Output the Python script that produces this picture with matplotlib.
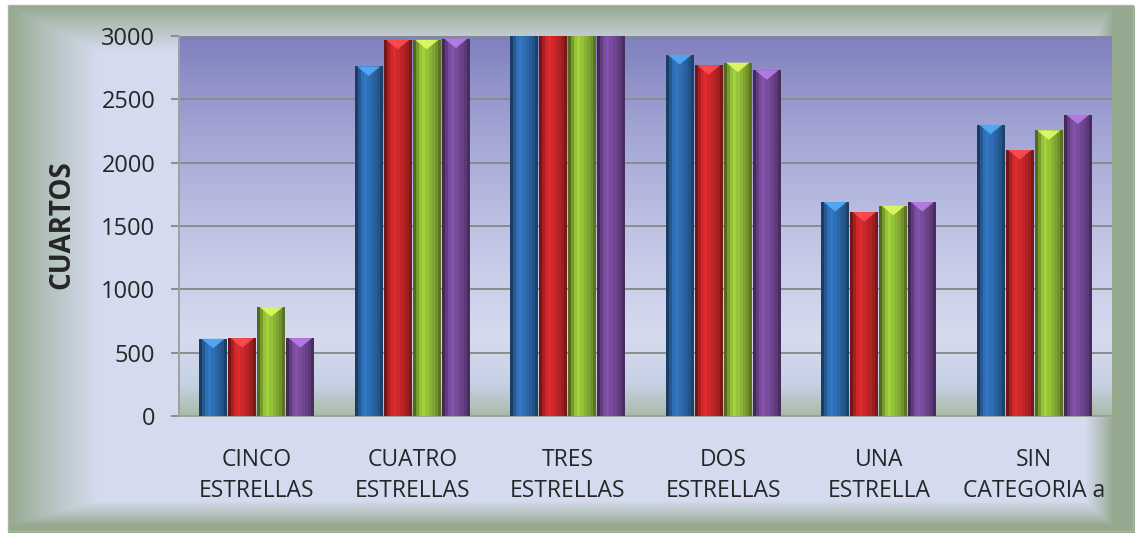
import matplotlib.pyplot as plt
import numpy as np
from matplotlib.colors import LinearSegmentedColormap, to_rgb
from matplotlib.patches import Rectangle, Polygon

# data
categories = ['CINCO\nESTRELLAS', 'CUATRO\nESTRELLAS', 'TRES\nESTRELLAS',
              'DOS\nESTRELLAS', 'UNA\nESTRELLA', 'SIN\nCATEGORIA a']
serie_1 = [610, 2760, 3400, 2850, 1690, 2300]
serie_2 = [615, 2970, 3400, 2770, 1610, 2100]
serie_3 = [860, 2970, 3400, 2790, 1660, 2255]
serie_4 = [615, 2980, 3400, 2730, 1690, 2380]
series = [serie_1, serie_2, serie_3, serie_4]
colors = ['#2F6FB5', '#D0282A', '#96C23A', '#7A4C9E']

plt.rcParams['font.family'] = ['Open Sans', 'DejaVu Sans']

W, H = 1135, 533
fig = plt.figure(figsize=(W / 100, H / 100), dpi=100)

# outer frame: green at the border fading into light lavender
bg = fig.add_axes([0, 0, 1, 1])
yy, xx = np.mgrid[0:H, 0:W]
t = np.minimum.reduce([(xx - 8) / 90.0, (W - 22 - xx) / 28.0,
                       (yy - 6) / 45.0, (H - 8 - yy) / 25.0])
t = np.clip(t, 0, 1) ** 0.9
green = np.array(to_rgb('#94A98E'))
light = np.array(to_rgb('#D5DBEF'))
img = green[None, None, :] * (1 - t[..., None]) + light[None, None, :] * t[..., None]
img[:6, :] = 1.0
img[:, :8] = 1.0
bg.imshow(img, extent=[0, W, H, 0], aspect='auto')
bg.add_patch(Rectangle((8, 5), W - 10, H - 7, fill=False, ec='#B0B0B0', lw=1))
bg.set_xlim(0, W)
bg.set_ylim(H, 0)
bg.axis('off')

left, right, top, bottom = 179, 1112, 36, 416
ax = fig.add_axes([left / W, (H - bottom) / H, (right - left) / W, (bottom - top) / H])
ax.set_facecolor('none')

n = len(categories)
x = np.arange(n)
w = 0.187
ax.set_xlim(-0.5, n - 0.5)
ax.set_ylim(0, 3000)

# plot area gradient
cmap = LinearSegmentedColormap.from_list('pa', [
    (0.0, '#A9BAA8'), (0.08, '#C6D0E4'), (0.2, '#D6DBEF'),
    (0.45, '#C3C7E6'), (0.75, '#A2A5D4'), (1.0, '#7F80BE')])
grad = np.linspace(0, 1, 256)[:, None]
ax.imshow(grad, cmap=cmap, extent=[-0.5, n - 0.5, 0, 3000], aspect='auto',
          origin='lower', zorder=0)

ax.set_yticks(np.arange(0, 3001, 500))
ax.yaxis.grid(True, color='#8C8C8C', lw=1.4, zorder=1)
ax.set_axisbelow(True)

# bars with horizontal shading
shade = np.array([0.55, 0.8, 1.0, 1.08, 1.0, 0.92, 0.85, 0.75, 0.6])
for k, (vals, col) in enumerate(zip(series, colors)):
    base = np.array(to_rgb(col))
    strip = np.clip(base[None, :] * shade[:, None], 0, 1)[None, :, :]
    xs = x + (k - 1.5) * w
    bars = ax.bar(xs, vals, width=w * 0.96, color=col, zorder=2, lw=0)
    for b, v in zip(bars, vals):
        x0 = b.get_x()
        bw = b.get_width()
        top_v = min(v, 3000)
        im = ax.imshow(strip, extent=[x0, x0 + bw, 0, top_v], aspect='auto', zorder=3)
        im.set_clip_path(b)
        if v < 3000:
            light_col = np.clip(base * 1.35 + 0.1, 0, 1)
            tri = Polygon([[x0 + bw * 0.08, v], [x0 + bw * 0.92, v],
                           [x0 + bw * 0.5, v - 75]], closed=True,
                          fc=light_col, ec='none', alpha=0.85, zorder=4)
            ax.add_patch(tri)

ax.set_xticks(x)
ax.set_xticklabels(categories, fontsize=16.5, color='#262626', linespacing=1.4)
ax.tick_params(axis='x', length=0, pad=23)
ax.tick_params(axis='y', length=6, width=1.4, color='#8C8C8C', labelsize=17,
               labelcolor='#262626', pad=11)
for s in ['top', 'right']:
    ax.spines[s].set_visible(False)
ax.spines['left'].set_color('#A0A0A0')
ax.spines['left'].set_linewidth(1.4)
ax.spines['bottom'].set_color('#A0A0A0')
ax.spines['bottom'].set_linewidth(1.4)

fig.text(62 / W, 1 - 225 / H, 'CUARTOS', rotation=90, fontsize=20,
         fontweight='bold', color='#262626', ha='center', va='center')

fig.savefig('out.png', dpi=100)
